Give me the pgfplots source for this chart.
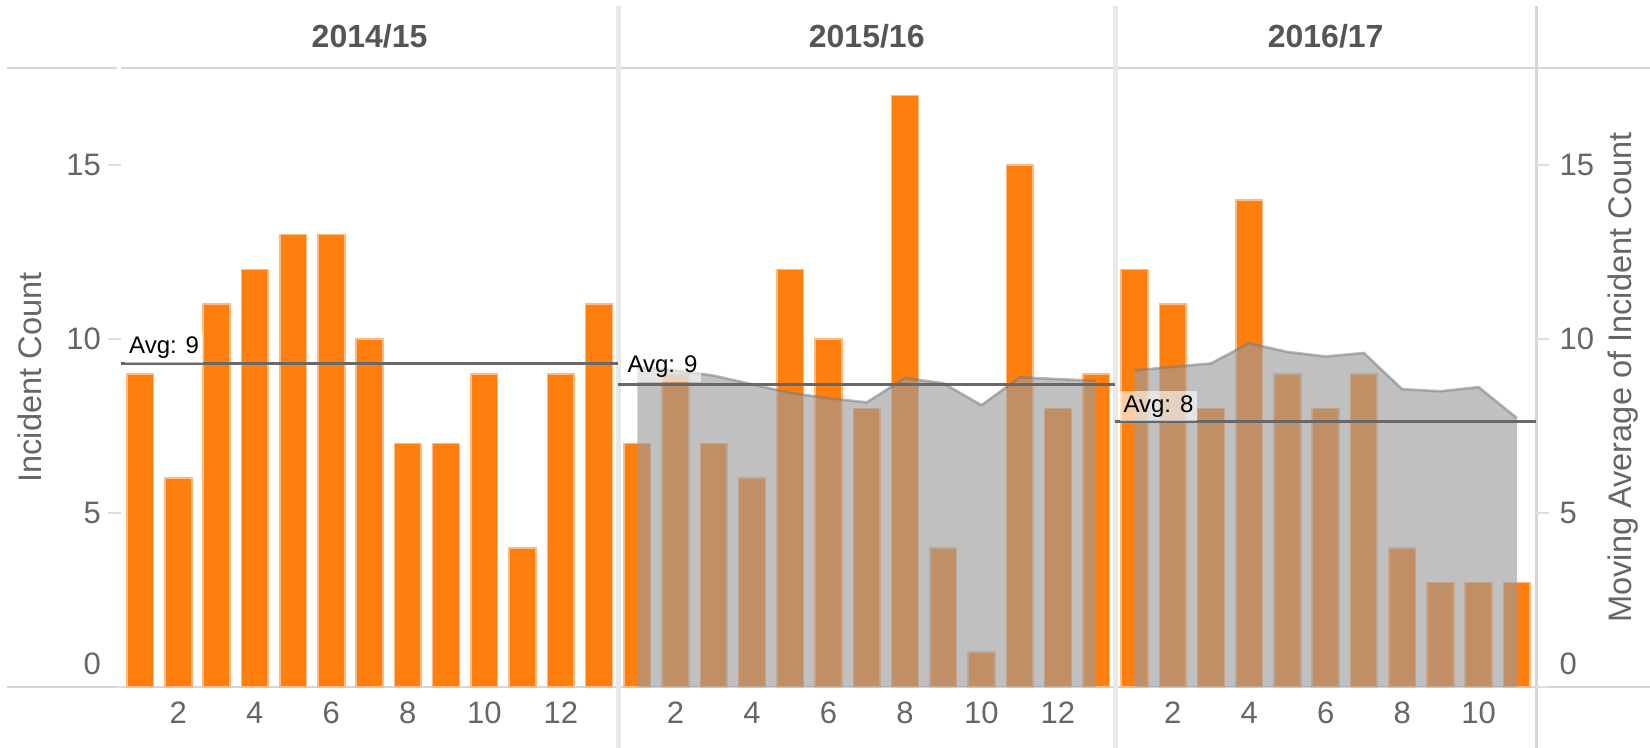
\documentclass[border=0pt]{standalone}
\usepackage{pgfplots}
\usepackage{pgfplotstable}
\pgfplotsset{compat=1.18}
\usepackage{fontspec}
\setmainfont{Liberation Sans}
\definecolor{barorange}{HTML}{FF7F0E}
\definecolor{baredge}{RGB}{255,186,132}
\definecolor{areagray}{RGB}{154,154,154}
\definecolor{areaedge}{RGB}{118,118,118}
\definecolor{avgline}{RGB}{104,104,104}
\definecolor{sepgray}{RGB}{232,232,232}
\definecolor{framegray}{RGB}{214,214,214}
\definecolor{tickgray}{RGB}{222,222,222}
\definecolor{labgray}{RGB}{102,102,102}
\definecolor{headgray}{RGB}{85,85,85}

\pgfplotstableread{
x y
1 9
2 6
3 11
4 12
5 13
6 13
7 10
8 7
9 7
10 9
11 4
12 9
13 11
14 7
15 9
16 7
17 6
18 12
19 10
20 8
21 17
22 4
23 1
24 15
25 8
26 9
27 12
28 11
29 8
30 14
31 9
32 8
33 9
34 4
35 3
36 3
37 3
}\bars

\pgfplotstableread{
x y
14 9.2
15 9.1
16 8.95
17 8.7
18 8.45
19 8.3
20 8.18
21 8.88
22 8.73
23 8.1
24 8.9
25 8.85
26 8.8
}\maB

\pgfplotstableread{
x y
27 9.1
28 9.2
29 9.3
30 9.88
31 9.63
32 9.5
33 9.6
34 8.56
35 8.5
36 8.62
37 7.73
}\maC

\begin{document}
\begin{tikzpicture}
\path[use as bounding box] (0,0) rectangle (825pt,374pt);
\begin{axis}[
  at={(60.5pt,30.5pt)}, anchor=south west,
  scale only axis, width=707.5pt, height=309.5pt,
  xmin=0.5, xmax=37.5, ymin=0, ymax=17.79,
  clip=false,
  axis line style={draw=none},
  xtick={2,4,6,8,10,12,15,17,19,21,23,25,28,30,32,34,36},
  xticklabels={2,4,6,8,10,12,2,4,6,8,10,12,2,4,6,8,10},
  ytick={0,5,10,15},
  yticklabels={\raisebox{6pt}[0pt][0pt]{0},5,10,15},
  xtick pos=bottom, ytick pos=left,
  tick align=outside,
  major tick length=6.5pt,
  xtick style={draw=none},
  ytick style={draw=tickgray, line width=1.2pt},
  tick label style={font=\fontsize{15.5}{18}\selectfont, text=labgray},
  xticklabel style={yshift=2.5pt},
  ylabel={Incident Count},
  every axis y label/.style={at={(axis description cs:-0.0643,0.5)}, rotate=90, anchor=center, font=\fontsize{16.3}{19}\selectfont, text=labgray},
]
% frame lines
\draw[framegray, line width=1pt] (axis cs:-2.48,17.79) -- (axis cs:0.40,17.79);
\draw[framegray, line width=1pt] (axis cs:0.50,17.79) -- (axis cs:40.6,17.79);
\draw[framegray, line width=1pt] (axis cs:-2.48,0) -- (axis cs:0.40,0);
\draw[framegray, line width=1pt] (axis cs:0.50,0) -- (axis cs:40.6,0);
\draw[sepgray, line width=2.5pt] (axis cs:13.5,19.57) -- (axis cs:13.5,-1.76);
\draw[sepgray, line width=2.5pt] (axis cs:26.5,19.57) -- (axis cs:26.5,-1.76);
\draw[framegray, line width=1.5pt] (axis cs:37.5,19.57) -- (axis cs:37.5,-1.76);
% headers
\node[font=\fontsize{16}{19}\selectfont\bfseries, text=headgray] at (axis cs:7,18.71) {2014/15};
\node[font=\fontsize{16}{19}\selectfont\bfseries, text=headgray] at (axis cs:20,18.71) {2015/16};
\node[font=\fontsize{16}{19}\selectfont\bfseries, text=headgray] at (axis cs:32,18.71) {2016/17};
% bars
\addplot[ybar, bar width=0.70, fill=barorange, draw=baredge, line width=0.8pt] table[x=x, y=y] {\bars};
% moving average areas
\addplot[fill=areagray, fill opacity=0.625, draw=none] table[x=x, y=y] {\maB} \closedcycle;
\addplot[fill=areagray, fill opacity=0.625, draw=none] table[x=x, y=y] {\maC} \closedcycle;
\addplot[areaedge, draw opacity=0.5, line width=1.3pt] table[x=x, y=y] {\maB};
\addplot[areaedge, draw opacity=0.5, line width=1.3pt] table[x=x, y=y] {\maC};
% averages
\addplot[avgline, line width=1.4pt] coordinates {(0.5,9.3077) (13.5,9.3077)};
\addplot[avgline, line width=1.4pt] coordinates {(13.5,8.6923) (26.5,8.6923)};
\addplot[avgline, line width=1.4pt] coordinates {(26.5,7.6364) (37.5,7.6364)};
\node[anchor=west, fill=white, fill opacity=0.6, text opacity=1, inner sep=2pt, font=\fontsize{12}{14}\selectfont] at (axis cs:0.60,9.74) {Avg: 9};
\node[anchor=west, fill=white, fill opacity=0.6, text opacity=1, inner sep=2pt, font=\fontsize{12}{14}\selectfont] at (axis cs:13.63,9.20) {Avg: 9};
\node[anchor=west, fill=white, fill opacity=0.6, text opacity=1, inner sep=2pt, font=\fontsize{12}{14}\selectfont] at (axis cs:26.60,8.07) {Avg: 8};
\end{axis}
\begin{axis}[
  at={(60.5pt,30.5pt)}, anchor=south west,
  scale only axis, width=707.5pt, height=309.5pt,
  xmin=0.5, xmax=37.5, ymin=0, ymax=17.79,
  hide x axis,
  axis y line*=right,
  axis line style={draw=none},
  ytick={0,5,10,15},
  yticklabels={\raisebox{6pt}[0pt][0pt]{0},5,10,15},
  tick align=outside,
  major tick length=6.5pt,
  ytick style={draw=tickgray, line width=1.2pt},
  tick label style={font=\fontsize{15.5}{18}\selectfont, text=labgray},
  yticklabel style={xshift=1.8pt},
  ylabel={Moving Average of Incident Count},
  every axis y label/.style={at={(axis description cs:1.0615,0.5)}, rotate=90, anchor=center, font=\fontsize{16.3}{19}\selectfont, text=labgray},
]
\addplot[draw=none] coordinates {(1,0)};
\end{axis}
\end{tikzpicture}
\end{document}
